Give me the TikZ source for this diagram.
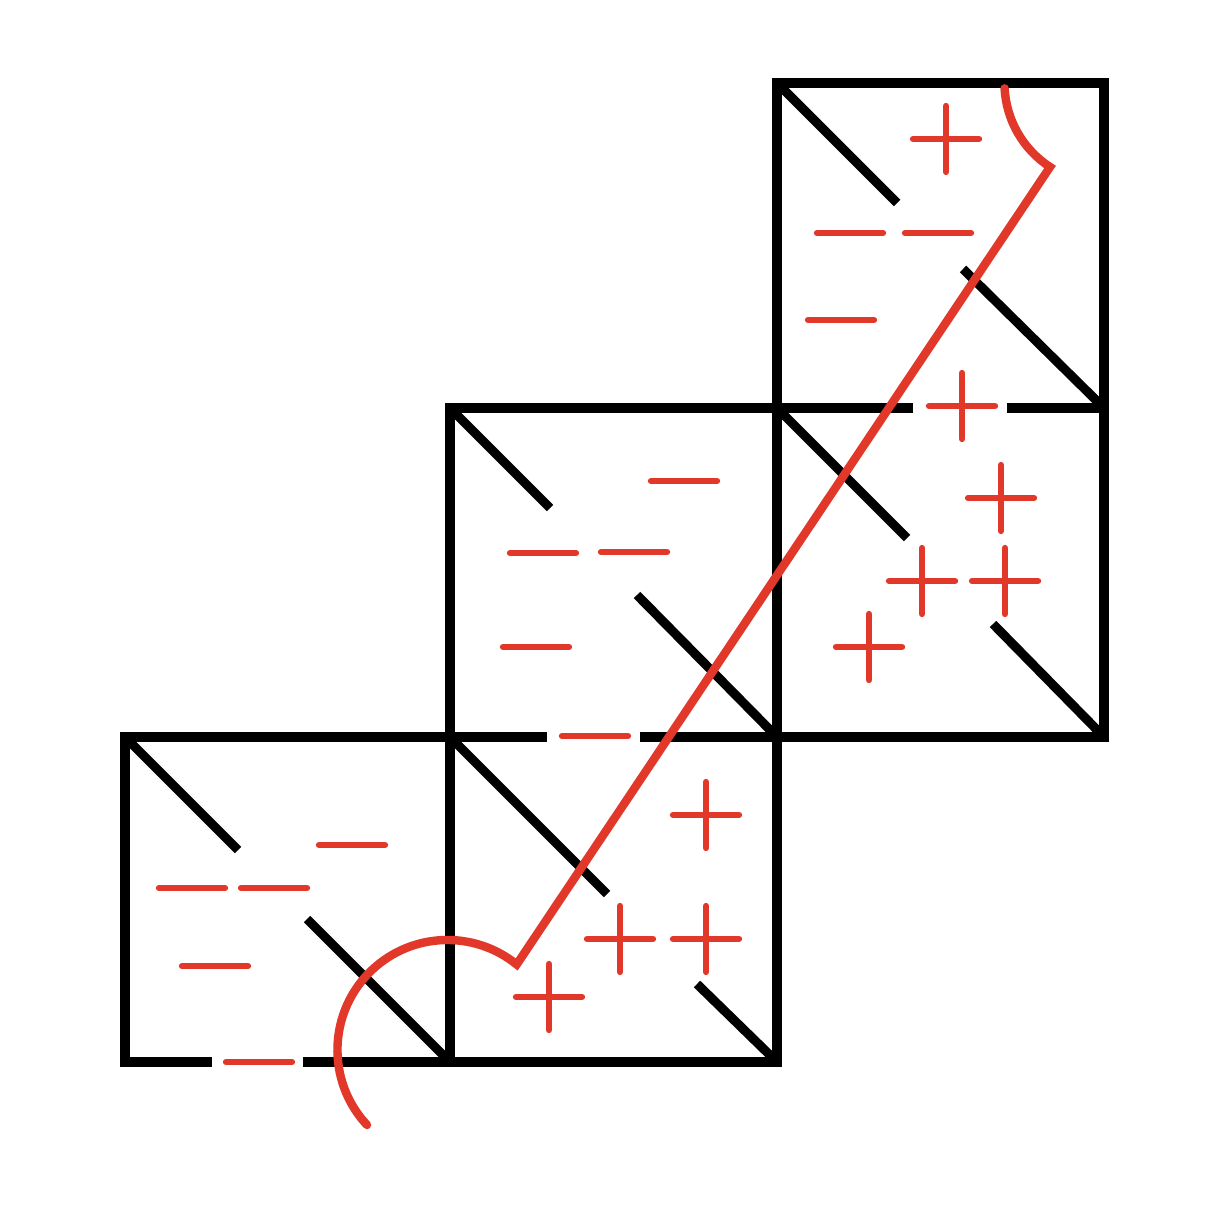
\documentclass[tikz,border=0pt]{standalone}
\usepackage{tikz}
\definecolor{signred}{RGB}{226,56,42}
\tikzset{
  edge/.style={line width=2.6pt},
  sign/.style={signred,line width=1.8pt,line cap=round},
  cut/.style={signred,line width=2.4pt,line cap=round}
}

\begin{document}
\begin{tikzpicture}
  \useasboundingbox (0,0) rectangle (12.19,12.10);
  % outline of the five squares
  \draw[edge] (2.12,1.48) -- (1.25,1.48) -- (1.25,4.73) -- (4.50,4.73);
  \draw[edge] (3.03,1.48) -- (7.77,1.48) -- (7.77,11.27) -- (11.04,11.27) -- (11.04,4.73) -- (7.77,4.73);
  \draw[edge] (4.50,1.48) -- (4.50,8.02) -- (7.77,8.02);
  \draw[edge] (4.50,4.73) -- (5.47,4.73);
  \draw[edge] (6.40,4.73) -- (7.77,4.73);
  \draw[edge] (7.77,8.02) -- (9.13,8.02);
  \draw[edge] (10.07,8.02) -- (11.04,8.02);
  % broken diagonals
  \draw[edge] (7.77,11.27) -- (8.97,10.07);
  \draw[edge] (9.63,9.41) -- (11.04,8.02);
  \draw[edge] (4.50,8.02) -- (5.50,7.02);
  \draw[edge] (6.37,6.15) -- (7.77,4.73);
  \draw[edge] (7.77,8.02) -- (9.07,6.72);
  \draw[edge] (9.93,5.86) -- (11.04,4.73);
  \draw[edge] (1.25,4.73) -- (2.38,3.60);
  \draw[edge] (3.07,2.91) -- (4.50,1.48);
  \draw[edge] (4.50,4.73) -- (6.07,3.16);
  \draw[edge] (6.97,2.26) -- (7.77,1.48);
  % minus signs
  \foreach \x/\y in {8.50/9.77, 9.38/9.77, 8.41/8.90,
                     6.84/7.29, 5.43/6.57, 6.34/6.58, 5.36/5.63, 5.95/4.74,
                     3.52/3.65, 1.92/3.22, 2.74/3.22, 2.15/2.44, 2.59/1.48}
    \draw[sign] (\x-0.33,\y) -- (\x+0.33,\y);
  % plus signs
  \foreach \x/\y in {9.46/10.71, 9.62/8.04, 10.01/7.12, 9.22/6.29, 10.05/6.29,
                     8.69/5.63, 7.06/3.95, 6.20/2.71, 7.06/2.71, 5.49/2.13}
    \draw[sign] (\x-0.33,\y) -- (\x+0.33,\y) (\x,\y-0.33) -- (\x,\y+0.33);
  % red cut
  \draw[cut] (3.67,0.85) arc (223:51:1.1) -- (10.50,10.43) arc (237:183:1.0);
\end{tikzpicture}
\end{document}
